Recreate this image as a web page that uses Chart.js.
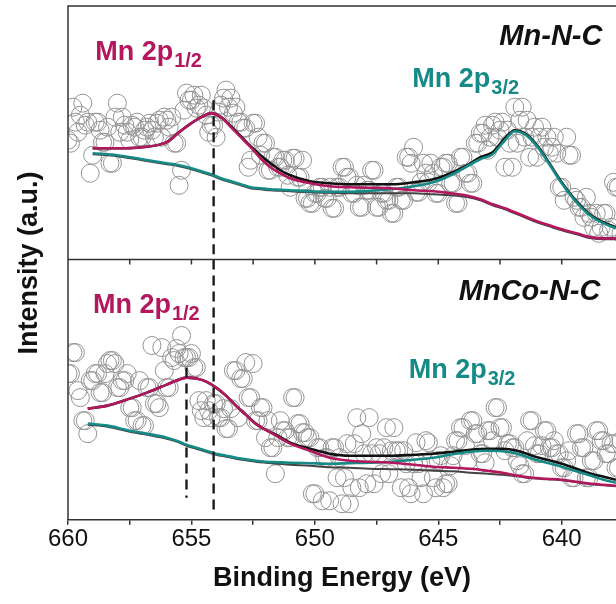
<!DOCTYPE html>
<html>
<head>
<meta charset="utf-8">
<script src="https://cdn.jsdelivr.net/npm/chart.js@4.4.0/dist/chart.umd.min.js"></script>
<style>
  html, body { margin: 0; padding: 0; background: #fff; overflow: hidden; }
  #wrap { width: 616px; height: 604px; }
  canvas { display: block; }
</style>
</head>
<body>
<div id="wrap"><canvas id="xpsChart" width="616" height="604"></canvas></div>
<script>
// binding energy grid of the raw spectra (eV), even and odd channels
var energyEven = [
  660.0, 659.8, 659.6, 659.4, 659.2, 659.0, 658.8, 658.6, 658.4, 658.2,
  658.0, 657.8, 657.6, 657.4, 657.2, 657.0, 656.8, 656.6, 656.4, 656.2,
  656.0, 655.8, 655.6, 655.4, 655.2, 655.0, 654.8, 654.6, 654.4, 654.2,
  654.0, 653.8, 653.6, 653.4, 653.2, 653.0, 652.8, 652.6, 652.4, 652.2,
  652.0, 651.8, 651.6, 651.4, 651.2, 651.0, 650.8, 650.6, 650.4, 650.2,
  650.0, 649.8, 649.6, 649.4, 649.2, 649.0, 648.8, 648.6, 648.4, 648.2,
  648.0, 647.8, 647.6, 647.4, 647.2, 647.0, 646.8, 646.6, 646.4, 646.2,
  646.0, 645.8, 645.6, 645.4, 645.2, 645.0, 644.8, 644.6, 644.4, 644.2,
  644.0, 643.8, 643.6, 643.4, 643.2, 643.0, 642.8, 642.6, 642.4, 642.2,
  642.0, 641.8, 641.6, 641.4, 641.2, 641.0, 640.8, 640.6, 640.4, 640.2,
  640.0, 639.8, 639.6, 639.4, 639.2, 639.0, 638.8, 638.6, 638.4, 638.2,
  638.0, 637.8, 637.6
];
var energyOdd = [
  659.9, 659.7, 659.5, 659.3, 659.1, 658.9, 658.7, 658.5, 658.3, 658.1,
  657.9, 657.7, 657.5, 657.3, 657.1, 656.9, 656.7, 656.5, 656.3, 656.1,
  655.9, 655.7, 655.5, 655.3, 655.1, 654.9, 654.7, 654.5, 654.3, 654.1,
  653.9, 653.7, 653.5, 653.3, 653.1, 652.9, 652.7, 652.5, 652.3, 652.1,
  651.9, 651.7, 651.5, 651.3, 651.1, 650.9, 650.7, 650.5, 650.3, 650.1,
  649.9, 649.7, 649.5, 649.3, 649.1, 648.9, 648.7, 648.5, 648.3, 648.1,
  647.9, 647.7, 647.5, 647.3, 647.1, 646.9, 646.7, 646.5, 646.3, 646.1,
  645.9, 645.7, 645.5, 645.3, 645.1, 644.9, 644.7, 644.5, 644.3, 644.1,
  643.9, 643.7, 643.5, 643.3, 643.1, 642.9, 642.7, 642.5, 642.3, 642.1,
  641.9, 641.7, 641.5, 641.3, 641.1, 640.9, 640.7, 640.5, 640.3, 640.1,
  639.9, 639.7, 639.5, 639.3, 639.1, 638.9, 638.7, 638.5, 638.3, 638.1,
  637.9, 637.7
];

// raw counts (a.u.), Mn-N-C (top panel)
var rawMnNCEven = [
  119, 152, 127, 156, 137, 104, 137, 117, 132, 96,
  156, 142, 127, 134, 137, 122, 132, 129, 136, 122,
  139, 142, 116, 89, 166, 159, 151, 164, 144, 134,
  122, 154, 169, 161, 152, 137, 131, 99, 136, 104,
  116, 89, 102, 92, 99, 72, 101, 82, 61, 56,
  66, 72, 61, 72, 51, 72, 92, 82, 66, 52,
  74, 69, 89, 52, 66, 59, 46, 72, 59, 102,
  112, 67, 96, 77, 86, 66, 92, 96, 76, 56,
  102, 86, 76, 116, 126, 109, 134, 122, 137, 129,
  92, 116, 152, 139, 122, 102, 132, 122, 112, 106,
  72, 122, 104, 59, 52, 62, 42, 46, 32, 46,
  32, 72, 26
];
var rawMnNCOdd = [
  116, 137, 144, 134, 86, 137, 129, 117, 96, 142,
  127, 134, 119, 132, 122, 129, 136, 122, 139, 142,
  132, 116, 74, 149, 159, 164, 154, 151, 127, 134,
  147, 161, 152, 146, 137, 131, 92, 136, 122, 116,
  89, 102, 92, 99, 84, 101, 82, 99, 61, 56,
  66, 72, 61, 51, 72, 92, 82, 66, 74, 52,
  69, 89, 52, 66, 59, 46, 72, 59, 102, 96,
  67, 77, 86, 96, 66, 92, 96, 76, 56, 102,
  86, 76, 116, 126, 134, 122, 137, 129, 92, 116,
  152, 139, 122, 102, 132, 122, 112, 106, 122, 72,
  59, 104, 62, 52, 42, 46, 32, 26, 46, 29,
  77, 72
];

// raw counts (a.u.), MnCo-N-C (bottom panel)
var rawMnCoNCEven = [
  146, 167, 129, 99, 86, 139, 146, 127, 156, 159,
  132, 139, 146, 112, 99, 94, 132, 174, 116, 172,
  132, 162, 171, 184, 162, 166, 152, 109, 119, 102,
  116, 102, 91, 111, 149, 141, 157, 122, 99, 112,
  82, 72, 46, 99, 89, 82, 122, 96, 87, 82,
  26, 72, 62, 19, 72, 62, 42, 16, 76, 32,
  66, 102, 36, 66, 72, 46, 92, 69, 69, 32,
  56, 56, 26, 77, 42, 59, 32, 36, 64, 79,
  92, 59, 99, 86, 66, 89, 79, 112, 92, 76,
  72, 59, 46, 79, 99, 66, 74, 89, 72, 66,
  52, 59, 42, 86, 72, 42, 59, 89, 79, 66,
  76, 52, 79
];
var rawMnCoNCOdd = [
  146, 167, 122, 99, 139, 146, 127, 146, 159, 156,
  132, 139, 112, 99, 139, 94, 132, 116, 112, 149,
  132, 159, 166, 162, 162, 152, 119, 102, 109, 116,
  102, 111, 91, 149, 102, 141, 122, 156, 99, 112,
  99, 72, 82, 89, 82, 122, 96, 87, 82, 26,
  72, 19, 62, 72, 42, 16, 76, 32, 102, 86,
  36, 66, 72, 46, 92, 69, 69, 32, 56, 26,
  77, 42, 79, 59, 32, 64, 36, 54, 79, 92,
  74, 99, 86, 66, 57, 89, 112, 92, 69, 76,
  72, 54, 46, 99, 74, 66, 89, 72, 79, 66,
  52, 69, 42, 86, 72, 42, 59, 89, 79, 66,
  76, 52
];

// fitted curves, Mn-N-C
var fitEnergyTop = [659.0, 658.0, 657.0, 656.0, 655.5, 655.0, 654.6, 654.2, 653.8, 653.4, 653.0, 652.6, 652.2,
  651.8, 651.4, 651.0, 650.2, 649.4, 648.6, 647.8, 646.9, 646.0, 645.2, 644.5, 643.9, 643.3, 642.8, 642.3,
  641.9, 641.5, 641.0, 640.5, 640.0, 639.4, 638.8, 638.3, 637.8];
var envelopeTop = [111, 111, 112, 117, 127, 136, 142, 146, 142, 133, 123, 113, 104,
  96, 89, 84, 78, 76, 75, 75, 75, 77, 80, 86, 93, 102, 107, 121,
  129, 126, 114, 96, 77, 58, 44, 37, 32];
var p12Top = [111, 111, 112, 117, 127, 136, 142, 146, 142, 132, 122, 112, 101,
  92, 86, 81, 76, 73, 72, 71.5, 71, 69, 68, 66, 64, 60, 55, 51,
  47, 43, 38, 34, 30, 26, 22, 21, 21];
var p32Top = [106, 104, 100, 96, 94, 91, 88, 85, 81, 78, 75, 72, 71,
  70, 69.5, 69, 68, 67.5, 67.5, 68.5, 70, 73, 77, 84, 92, 100, 105, 119,
  128, 125, 113, 95, 76, 57, 43, 36, 31];
var bgTop = [105, 103, 99, 95, 93, 90, 87, 84, 80, 77, 74, 71, 70,
  69, 68.5, 68, 67, 66.5, 66, 66, 66, 66, 65, 64, 62.5, 59, 54, 50,
  46, 42, 37, 33, 29, 25, 21, 20, 20];

// fitted curves, MnCo-N-C
var fitEnergyBot = [659.2, 658.4, 657.5, 656.8, 656.0, 655.6, 655.2, 654.8, 654.4, 654.0, 653.6, 653.2,
  652.8, 652.4, 652.0, 651.5, 651.0, 650.2, 649.4, 648.6, 647.8, 646.9, 646.0, 645.2, 644.4, 643.7,
  643.0, 642.4, 641.8, 641.2, 640.6, 640.0, 639.4, 638.8, 638.3, 637.8];
var envelopeBot = [111, 114, 121, 127, 135, 139, 142, 141, 138, 132, 124, 114,
  105, 96, 90, 84, 77, 71, 66, 64, 64, 64, 65, 66, 68, 70,
  71, 71, 69, 64, 60, 56, 51, 46, 43, 40];
var p12Bot = [111, 114, 121, 127, 135, 139, 142, 141, 138, 132, 124, 114,
  105, 96, 90, 83, 76, 69, 62, 59, 58, 57, 55, 53, 52, 51,
  49, 47, 44, 42, 41, 40, 38, 36, 35, 34];
var p32Bot = [96, 94, 89, 86, 82, 79, 75, 72, 69, 66, 64, 62,
  60.5, 59, 58, 57.5, 57, 56.5, 56, 56.5, 57, 58, 60, 62, 65.5, 68,
  69, 68.5, 66, 61, 57, 53, 48.5, 44, 40, 37];
var bgBot = [95, 93, 88, 85, 81, 78, 74, 71, 68, 65, 63, 61,
  59.5, 58, 57, 56, 55, 54, 52.5, 52, 51, 50.5, 50, 49, 48.5, 47,
  46, 45, 43.5, 41.5, 40.5, 39.5, 37.5, 35.5, 34.5, 33.5];

// peak position markers (eV) with their intensity span
var markerTop = { e: 654.1, from: 159, to: 0 };
var markersBot = [{ e: 655.2, from: 152, to: 22 }, { e: 654.1, from: 260, to: 6 }];

var xTickValues = [660, 657.5, 655, 652.5, 650, 647.5, 645, 642.5, 640];
var panelOffset = 260;   // top panel sits above the bottom one

var FONT = '"Liberation Sans", Arial, Helvetica, sans-serif';
var MAGENTA = '#b3185e';
var TEAL = '#168a86';

var labels = [
  { main: 'Mn 2p', sub: '1/2', e: 658.9, v: panelOffset + 199, color: MAGENTA },
  { main: 'Mn 2p', sub: '3/2', e: 646.05, v: panelOffset + 172, color: TEAL },
  { main: 'Mn-N-C', e: 638.35, v: panelOffset + 214, color: '#111', right: true },
  { main: 'Mn 2p', sub: '1/2', e: 658.99, v: 206, color: MAGENTA },
  { main: 'Mn 2p', sub: '3/2', e: 646.2, v: 142, color: TEAL },
  { main: 'MnCo-N-C', e: 638.43, v: 219, color: '#111', right: true }
];

function pts(es, vs, off) {
  return es.map(function (e, i) { return { x: e, y: vs[i] + off }; });
}

function fitLine(es, vs, off, color, order, width) {
  return {
    data: pts(es, vs, off),
    showLine: true,
    borderColor: color,
    borderWidth: width || 2.6,
    pointRadius: 0,
    cubicInterpolationMode: 'monotone',
    order: order
  };
}

function rawSet(es, vs, off) {
  return {
    data: pts(es, vs, off),
    pointRadius: 9,
    pointHoverRadius: 9,
    pointBorderWidth: 1,
    pointBorderColor: '#939393',
    pointBackgroundColor: 'rgba(255,255,255,0)',
    showLine: false,
    clip: 0,
    order: 20
  };
}

function markerLine(m, off) {
  return {
    data: [{ x: m.e, y: m.from + off }, { x: m.e, y: m.to + off }],
    showLine: true,
    borderColor: '#1a1a1a',
    borderWidth: 2.4,
    borderDash: [10, 6],
    pointRadius: 0,
    order: 0
  };
}

var datasets = [
  rawSet(energyEven, rawMnNCEven, panelOffset),
  rawSet(energyOdd, rawMnNCOdd, panelOffset),
  rawSet(energyEven, rawMnCoNCEven, 0),
  rawSet(energyOdd, rawMnCoNCOdd, 0),
  fitLine(fitEnergyTop, bgTop, panelOffset, '#444', 6, 2),
  fitLine(fitEnergyTop, envelopeTop, panelOffset, '#111', 5),
  fitLine(fitEnergyTop, p32Top, panelOffset, TEAL, 2),
  fitLine(fitEnergyTop, p12Top, panelOffset, MAGENTA, 1),
  fitLine(fitEnergyBot, bgBot, 0, '#444', 6, 2),
  fitLine(fitEnergyBot, envelopeBot, 0, '#111', 5),
  fitLine(fitEnergyBot, p32Bot, 0, TEAL, 2),
  fitLine(fitEnergyBot, p12Bot, 0, MAGENTA, 1),
  markerLine(markerTop, panelOffset)
].concat(markersBot.map(function (m) { return markerLine(m, 0); }));

var decor = {
  id: 'decor',
  afterDatasetsDraw: function (chart) {
    var ctx = chart.ctx, a = chart.chartArea;
    var xs = chart.scales.x, ys = chart.scales.y;
    var yDiv = ys.getPixelForValue(panelOffset);
    ctx.save();
    ctx.strokeStyle = '#333';
    ctx.lineWidth = 1.5;
    ctx.beginPath();
    ctx.moveTo(a.left, a.bottom);
    ctx.lineTo(a.left, a.top);
    ctx.lineTo(a.right, a.top);
    ctx.moveTo(a.left, yDiv);
    ctx.lineTo(a.right, yDiv);
    xTickValues.forEach(function (v) {
      var px = xs.getPixelForValue(v);
      ctx.moveTo(px, yDiv);
      ctx.lineTo(px, yDiv + 5);
    });
    ctx.stroke();

    ctx.textBaseline = 'alphabetic';
    labels.forEach(function (l) {
      var px = xs.getPixelForValue(l.e), py = ys.getPixelForValue(l.v);
      ctx.fillStyle = l.color;
      if (l.right) {
        ctx.font = 'italic bold 29px ' + FONT;
        ctx.textAlign = 'right';
        ctx.fillText(l.main, px, py);
      } else {
        ctx.textAlign = 'left';
        ctx.font = 'bold 27px ' + FONT;
        ctx.fillText(l.main, px, py);
        var w = ctx.measureText(l.main).width;
        ctx.font = 'bold 20px ' + FONT;
        ctx.fillText(l.sub, px + w + 1, py + 7);
      }
    });

    ctx.translate(30, (a.top + a.bottom) / 2);
    ctx.rotate(-Math.PI / 2);
    ctx.textAlign = 'center';
    ctx.textBaseline = 'middle';
    ctx.fillStyle = '#111';
    ctx.font = 'bold 27px ' + FONT;
    ctx.fillText('Intensity (a.u.)', 0, 0);
    ctx.restore();
  }
};

var ctx = document.getElementById('xpsChart').getContext('2d');
var xpsChart = new Chart(ctx, {
  type: 'scatter',
  data: { datasets: datasets },
  options: {
    responsive: false,
    animation: false,
    events: [],
    layout: { autoPadding: false, padding: { left: 68, top: 6, right: 0, bottom: 0 } },
    plugins: { legend: { display: false }, tooltip: { enabled: false } },
    scales: {
      x: {
        type: 'linear',
        reverse: true,
        min: 637.8,
        max: 660,
        afterBuildTicks: function (scale) {
          scale.ticks = xTickValues.map(function (v) { return { value: v }; });
        },
        afterFit: function (scale) {
          scale.paddingLeft = 0;
          scale.paddingRight = 0;
        },
        ticks: {
          autoSkip: false,
          maxRotation: 0,
          padding: 0,
          color: '#111',
          font: { family: FONT, size: 24 },
          callback: function (v) { return v % 5 === 0 ? v : ''; }
        },
        grid: { drawOnChartArea: false, drawTicks: true, tickLength: 5, color: '#333', lineWidth: 1.5 },
        border: { display: true, color: '#333', width: 1.5 },
        title: {
          display: true,
          text: 'Binding Energy (eV)',
          color: '#111',
          font: { family: FONT, size: 27, weight: 'bold' },
          padding: { top: 9, bottom: 9 }
        }
      },
      y: {
        display: false,
        min: 0,
        max: 513
      }
    }
  },
  plugins: [decor]
});
</script>
</body>
</html>
